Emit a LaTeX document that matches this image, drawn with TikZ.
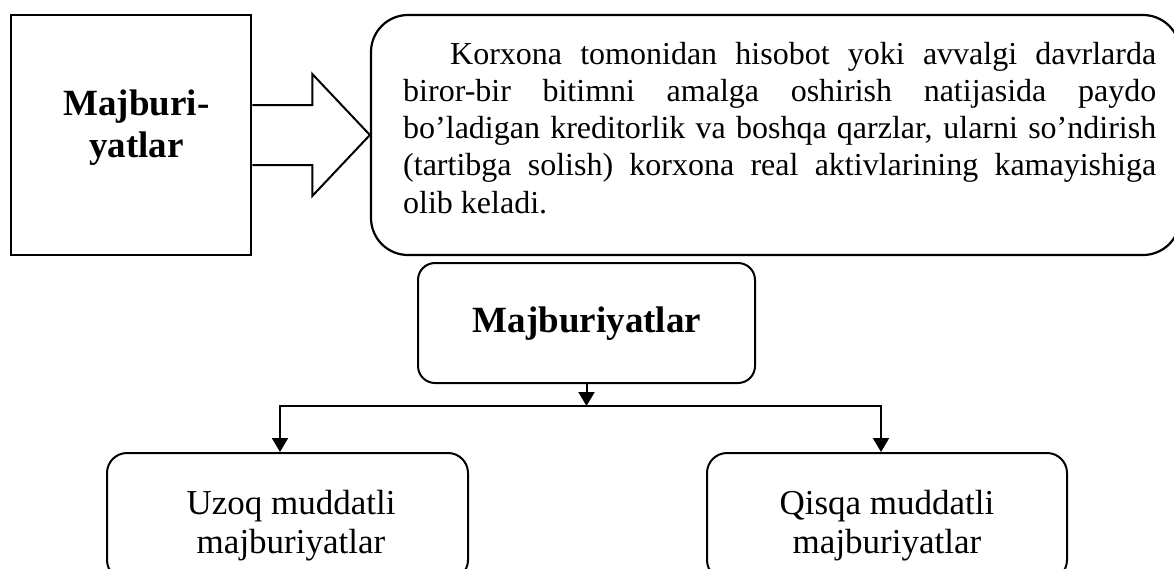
\documentclass[tikz,border=0pt]{standalone}
\usepackage{fontspec}
\setmainfont{Liberation Serif}
\usetikzlibrary{arrows.meta}
\begin{document}
\begin{tikzpicture}[x=1pt,y=-1pt,
  squarebox/.style={draw, line width=2.6pt, inner sep=0pt},
  roundbox/.style={draw, line width=2pt, inner sep=0pt},
  txt/.style={inner sep=0pt, anchor=base},
  link/.style={line width=2pt, -{Triangle[length=14pt,width=16pt]}},
  blockarrow/.style={draw, line width=2pt, line join=miter}]
  \clip (0,0) rectangle (1174,568);

  % top row: term box, block arrow, definition box
  \node[squarebox, minimum width=240pt, minimum height=240pt] (lbox) at (131,135) {};
  \node[txt] (lboxtext) at (136.5,115)
    {\parbox[t]{220pt}{\centering\bfseries\fontsize{37}{42}\selectfont Majburi-\\yatlar}};

  \node[roundbox, line width=2.2pt, rounded corners=37pt,
        minimum width=809pt, minimum height=240pt] (tbox) at (775.5,135) {};
  \node[txt, anchor=base west] (tboxtext) at (403,64)
    {\parbox[t]{753pt}{\fontsize{32}{37.3}\selectfont
      \hyphenpenalty=10000 \exhyphenpenalty=10000 \hbadness=10000 \tolerance=10000
      \hspace*{47pt}Korxona tomonidan hisobot yoki avvalgi davrlarda\linebreak
      biror-bir bitimni amalga oshirish natijasida paydo\linebreak
      bo’ladigan kreditorlik va boshqa qarzlar, ularni so’ndirish\linebreak
      (tartibga solish) korxona real aktivlarining kamayishiga\linebreak
      olib keladi.}};

  \draw[blockarrow]
    ([yshift=30pt]lbox.east) -- ([xshift=60pt,yshift=30pt]lbox.east)
    -- ([xshift=60pt,yshift=61pt]lbox.east) -- (tbox.west)
    -- ([xshift=60pt,yshift=-61pt]lbox.east) -- ([xshift=60pt,yshift=-30pt]lbox.east)
    -- ([yshift=-30pt]lbox.east);

  % classification tree
  \node[roundbox, rounded corners=17pt, minimum width=337pt, minimum height=120pt]
    (mid) at (586.5,323) {};
  \node[txt] (midtext) at (587,332)
    {\bfseries\fontsize{37}{42}\selectfont Majburiyatlar};

  \node[roundbox, rounded corners=20pt, minimum width=361pt, minimum height=127pt]
    (uzoq) at (287.5,516.5) {};
  \node[txt] (uzoqtext) at (291,514)
    {\parbox[t]{340pt}{\centering\fontsize{35}{39}\selectfont Uzoq muddatli\\majburiyatlar}};

  \node[roundbox, rounded corners=20pt, minimum width=360pt, minimum height=127pt]
    (qisqa) at (887,516.5) {};
  \node[txt] (qisqatext) at (887,514)
    {\parbox[t]{340pt}{\centering\fontsize{35}{39}\selectfont Qisqa muddatli\\majburiyatlar}};

  \coordinate (split) at (586.5,406);
  \draw[link] (mid.south) -- (split);
  \draw[link] (split) -| ([xshift=-7.5pt]uzoq.north);
  \draw[link] (split) -| ([xshift=-6pt]qisqa.north);
\end{tikzpicture}
\end{document}
